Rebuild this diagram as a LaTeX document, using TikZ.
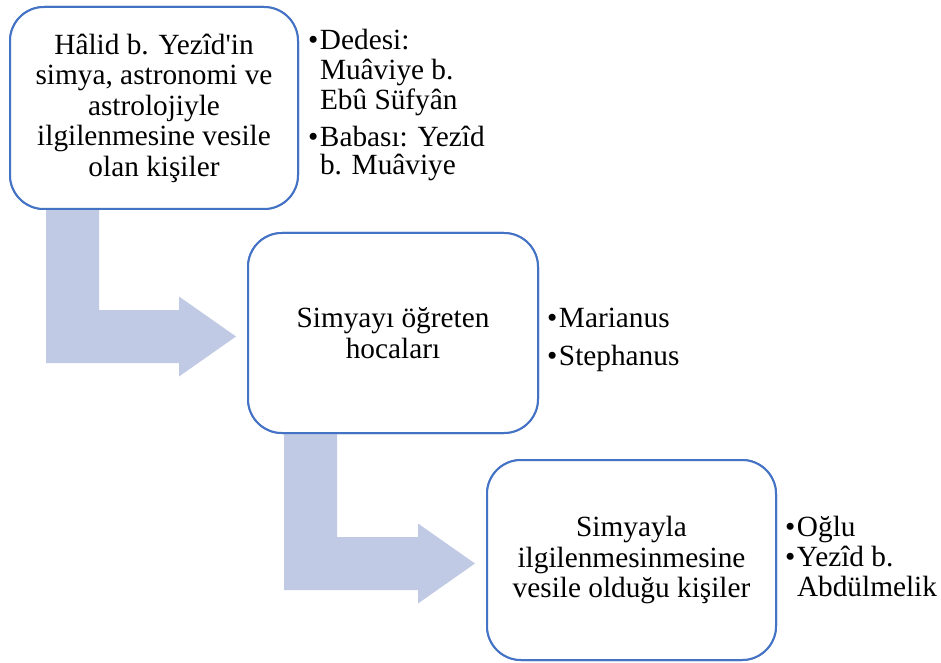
\documentclass[tikz,border=0pt]{standalone}
\usepackage{fontspec}
\setmainfont{Liberation Serif}
\usetikzlibrary{calc}
\definecolor{boxblue}{RGB}{68,114,196}
\definecolor{arrowfill}{RGB}{192,202,228}
\tikzset{
  flowbox/.style={draw=boxblue, line width=2pt, fill=white, rounded corners=34pt,
    inner sep=0pt, outer sep=0pt, align=center,
    font=\fontsize{29.3pt}{30.5pt}\selectfont},
  listline/.style={anchor=base west, inner sep=0pt, outer sep=0pt,
    font=\fontsize{29.3pt}{30.5pt}\selectfont},
}
\newcommand\bentarrow[2]{%
  \fill[arrowfill] let \p1=(#1.south west), \p2=(#2.west) in
   (\x1+36pt,\y1+8pt) -- (\x1+89pt,\y1+8pt) -- (\x1+89pt,\y2-3.5pt+26.5pt)
   -- (\x2-69pt,\y2-3.5pt+26.5pt) -- (\x2-69pt,\y2-3.5pt+40pt)
   -- (\x2-12pt,\y2-3.5pt) -- (\x2-69pt,\y2-3.5pt-40pt)
   -- (\x2-69pt,\y2-3.5pt-26.5pt) -- (\x1+36pt,\y2-3.5pt-26.5pt) -- cycle;}
\begin{document}
\begin{tikzpicture}[x=1pt,y=1pt]
\useasboundingbox (0,0) rectangle (941,662);
% box positions first so the arrows can refer to them
\path node[flowbox, minimum width=288pt, minimum height=202pt] (b1) at (154,554) {}
      node[flowbox, minimum width=290pt, minimum height=200pt] (b2) at (393,329) {}
      node[flowbox, minimum width=289pt, minimum height=200pt] (b3) at (631.5,102) {};
% bent arrows
\bentarrow{b1}{b2}
\bentarrow{b2}{b3}
% boxes with text, drawn over the arrows
\node[flowbox, minimum width=288pt, minimum height=202pt] (b1x) at (b1) {Hâlid b. Yezîd\textquotesingle in\\simya, astronomi ve\\astrolojiyle\\ilgilenmesine vesile\\olan kişiler};
\node[flowbox, minimum width=290pt, minimum height=200pt] (b2x) at (b2) {Simyayı öğreten\\hocaları};
\node[flowbox, minimum width=289pt, minimum height=200pt] (b3x) at (b3) {Simyayla\\ilgilenmesinmesine\\vesile olduğu kişiler};
% list 1
\node[listline] (l1a) at (308,612) {\makebox[12pt][l]{•}Dedesi:};
\node[listline] (l1b) at (320,582) {Muâviye b.};
\node[listline] (l1c) at (320,552) {Ebû Süfyân};
\node[listline] (l1d) at (308,515) {\makebox[12pt][l]{•}Babası: Yezîd};
\node[listline] (l1e) at (320,487) {b. Muâviye};
% list 2
\node[listline] (l2a) at (547,335) {\makebox[12pt][l]{•}Marianus};
\node[listline] (l2b) at (547,297) {\makebox[12pt][l]{•}Stephanus};
% list 3
\node[listline] (l3a) at (785,126) {\makebox[12pt][l]{•}Oğlu};
\node[listline] (l3b) at (785,95.5) {\makebox[12pt][l]{•}Yezîd b.};
\node[listline] (l3c) at (797,65.5) {Abdülmelik};
\end{tikzpicture}
\end{document}
